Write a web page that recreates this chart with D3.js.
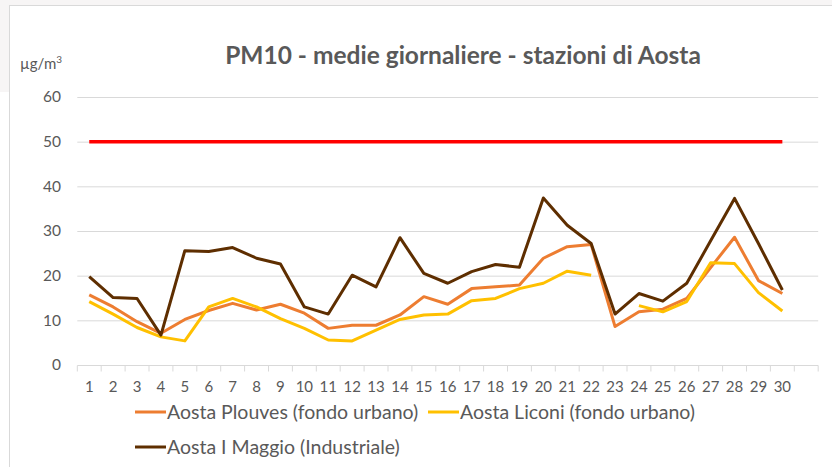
<!DOCTYPE html>
<html>
<head>
<meta charset="utf-8">
<script src="https://cdn.jsdelivr.net/npm/d3@7"></script>
<style>
  body { margin: 0; background: #fff; }
  text { font-family: Lato, "Open Sans", sans-serif; fill: #595959; }
</style>
</head>
<body>
<div id="chart"></div>
<script>
// days of the month (31st has no data, blank label)
const days = d3.range(1, 32)
const dayLabels = ["1","2","3","4","5","6","7","8","9","10","11","12","13","14","15","16","17","18","19","20","21","22","23","24","25","26","27","28","29","30",""]
const yTicks = [0, 10, 20, 30, 40, 50, 60]
const limit = 50

const plouves = [15.7, 13.0, 9.7, 7.1, 10.2, 12.2, 13.8, 12.3, 13.6, 11.6, 8.2, 8.9, 8.9, 11.2, 15.3, 13.6, 17.1, 17.5, 17.9, 23.9, 26.5, 27.0, 8.6, 11.9, 12.5, 14.9, 21.8, 28.6, 18.9, 16.0]
const liconi = [14.2, 11.4, 8.4, 6.3, 5.4, 13.0, 14.9, 13.0, 10.4, 8.2, 5.6, 5.4, 7.8, 10.2, 11.2, 11.4, 14.4, 14.9, 17.1, 18.3, 21.0, 20.1, null, 13.3, 11.9, 14.2, 22.9, 22.7, 16.2, 12.1]
const maggio = [19.8, 15.1, 14.9, 6.7, 25.6, 25.4, 26.3, 23.9, 22.6, 13.0, 11.4, 20.1, 17.5, 28.5, 20.5, 18.3, 20.9, 22.5, 21.9, 37.4, 31.3, 27.2, 11.4, 16.0, 14.3, 18.3, 27.8, 37.3, 27.2, 16.8]

const series = [
  { name: 'Aosta Plouves (fondo urbano)', values: plouves, color: '#ed7d31' },
  { name: 'Aosta Liconi (fondo urbano)', values: liconi, color: '#ffc000' },
  { name: 'Aosta I Maggio (Industriale)', values: maggio, color: '#5e2e00' }
]

const w = 832
const h = 467
const svg = d3.select('#chart').append('svg')
              .attr('width', w)
              .attr('height', h)

// outer frame
svg.append('rect').attr('x', 0).attr('y', 0).attr('width', w).attr('height', 92).attr('fill', '#f7f5f5')
svg.append('rect').attr('x', 9.5).attr('y', 5.5).attr('width', w).attr('height', h)
   .attr('fill', '#fff').attr('stroke', '#d9d9d9')

const x = d3.scaleBand().domain(days).range([77.3, 818.2])
const y = d3.scaleLinear().domain([0, 60]).range([365, 97])

// gridlines
svg.append('g').selectAll('line')
   .data(yTicks.filter(t => t > 0))
   .enter().append('line')
   .attr('x1', 77.3).attr('x2', 818.2)
   .attr('y1', d => y(d) + 0.5).attr('y2', d => y(d) + 0.5)
   .attr('stroke', '#d9d9d9')

// y axis labels
const yA = d3.axisLeft(y).tickValues(yTicks).tickSize(0).tickPadding(16)
const gy = svg.append('g').attr('transform', 'translate(77,0)').call(yA)
gy.select('.domain').remove()
gy.selectAll('text').style('font-size', '15.5px').attr('fill', '#595959')

// x axis
const xA = d3.axisBottom(x).tickSize(0).tickPadding(16).tickFormat((d, i) => dayLabels[i])
const gx = svg.append('g').attr('transform', 'translate(0,365.5)').call(xA)
gx.select('.domain').attr('stroke', '#d9d9d9').attr('d', 'M77.3,0H818.2')
gx.selectAll('text').style('font-size', '15px').attr('fill', '#595959')
gx.selectAll('.bound')
  .data(d3.range(0, 32))
  .enter().append('line')
  .attr('class', 'bound')
  .attr('x1', i => 77.3 + i * x.step()).attr('x2', i => 77.3 + i * x.step())
  .attr('y1', 0).attr('y2', 6)
  .attr('stroke', '#d9d9d9')

// limit line
svg.append('line')
   .attr('x1', x(1) + x.bandwidth() / 2)
   .attr('x2', x(30) + x.bandwidth() / 2)
   .attr('y1', y(limit)).attr('y2', y(limit))
   .attr('stroke', '#ff0000').attr('stroke-width', 3.5)

const line = d3.line()
               .defined(d => d[1] !== null)
               .x(d => x(d[0]) + x.bandwidth() / 2)
               .y(d => y(d[1]))

series.forEach(s => {
  svg.append('path')
     .datum(s.values.map((v, i) => [days[i], v]))
     .attr('d', line)
     .attr('fill', 'none')
     .attr('stroke', s.color)
     .attr('stroke-width', 3)
     .attr('stroke-linejoin', 'round')
})

// title
svg.append('text')
   .attr('x', 463).attr('y', 64)
   .attr('text-anchor', 'middle')
   .style('font-size', '24.5px').style('font-weight', 'bold')
   .text('PM10 - medie giornaliere - stazioni di Aosta')

// unit
const unit = svg.append('text').attr('x', 20).attr('y', 69).style('font-size', '15px')
unit.append('tspan').text('µg/m')
unit.append('tspan').attr('dy', -6).style('font-size', '10px').text('3')

// legend
const legPos = [[135, 412], [428, 412], [135, 447]]
series.forEach((s, i) => {
  const g = svg.append('g').attr('transform', 'translate(' + legPos[i][0] + ',' + legPos[i][1] + ')')
  g.append('line').attr('x1', 0).attr('x2', 31).attr('stroke', s.color).attr('stroke-width', 3)
  g.append('text').attr('x', 32).attr('dy', '0.35em').style('font-size', '19.5px').text(s.name)
})
</script>
</body>
</html>
